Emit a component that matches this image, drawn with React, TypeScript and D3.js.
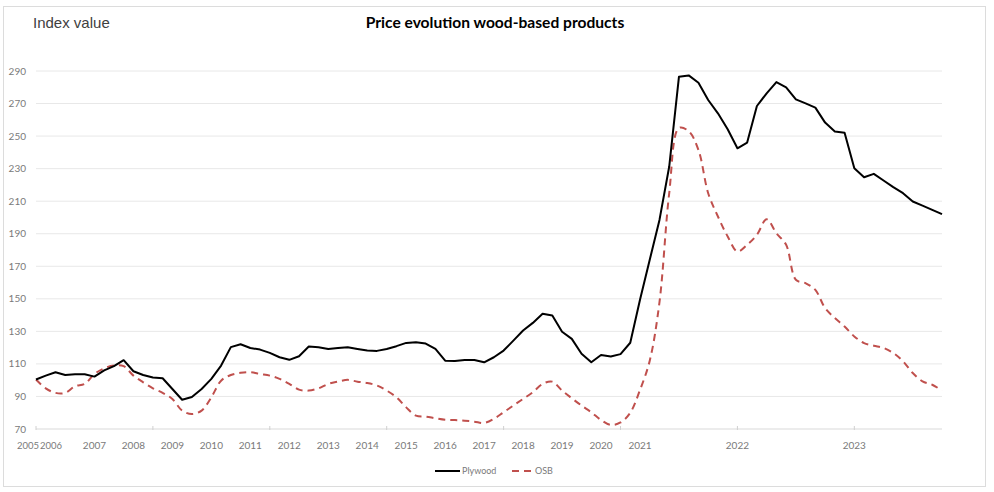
import React from "react";
import * as d3 from "d3";

const plywood = [
  100.4, 102.8, 104.9, 103.2, 103.6, 103.6, 102.2, 106, 108.6, 112.3,
  105.5, 103.2, 101.6, 101.2, 94.6, 88, 89.7, 94.6, 100.8, 109,
  120.3, 122.1, 119.8, 118.8, 116.8, 114.1, 112.5, 114.7, 120.7, 120.3,
  119.2, 119.8, 120.3, 119.2, 118.2, 118, 119.2, 120.9, 122.9, 123.3,
  122.5, 119.2, 112, 111.8, 112.4, 112.4, 111, 114.1, 118.2, 124.3,
  130.5, 135.2, 140.8, 139.7, 129.8, 125.4, 116.2, 111, 115.5, 114.5,
  116, 123, 149.4, 174, 198.5, 231.3, 286.5, 287.3, 282.8, 272.2,
  264, 254.2, 242.5, 246, 268.5, 276.3, 283.2, 280, 272.6, 270.1,
  267.5, 258.3, 252.8, 252.1, 230.2, 224.7, 226.8, 222.7, 218.6, 214.9,
  209.8, 207.3, 204.7, 202,
];

const osb = [
  100.4, 95, 92.2, 92.2, 96.3, 97.7, 103.8, 107.3, 109, 108.6,
  102.8, 98.7, 95, 92.2, 88.5, 81.3, 79.2, 81.3, 89.5, 99.7,
  103.2, 104.5, 104.9, 103.8, 102.8, 100.8, 97.7, 94.2, 93.6, 95,
  97.7, 99.1, 100.2, 99.1, 98.3, 96.7, 93.6, 89.5, 83.3, 78.2,
  77.6, 76.6, 75.7, 75.5, 75.1, 74.5, 73.7, 76.2, 80.3, 84.4,
  88.5, 92.6, 97.7, 99.1, 93.6, 88.9, 84.4, 80.3, 75.5, 72.5,
  74, 80, 94, 112, 148, 215, 255, 253, 241.5, 214.9,
  200.6, 188.3, 179.1, 183.2, 189.3, 198.9, 190.3, 183.2, 161.7, 159.6,
  155.5, 144.3, 138.2, 133, 126.9, 122.8, 121.2, 119.8, 116.7, 111.6,
  104.4, 99.3, 97.2, 93.6,
];

// Year labels and the category index where each appears
const yearLabels = ["2005", "2006", "2007", "2008", "2009", "2010", "2011", "2012", "2013", "2014", "2015", "2016", "2017", "2018", "2019", "2020", "2021", "2022", "2023"];
const yearIndex = [0, 1, 6, 10, 14, 18, 22, 26, 30, 34, 38, 42, 46, 50, 54, 58, 62, 72, 84];
const yTicks = [70, 90, 110, 130, 150, 170, 190, 210, 230, 250, 270, 290];
const tickEvery = 12;

const W = 994;
const H = 492;
const left = 36;
const right = 942;
const top = 71;
const bottom = 429;

export default function App() {
  const idx = d3.range(plywood.length);
  const x = d3.scalePoint<number>().domain(idx).range([left, right]);
  const y = d3.scaleLinear().domain([70, 290]).range([bottom, top]);

  const lineP = d3
    .line<number>()
    .x((_, i) => x(i) as number)
    .y((d) => y(d));
  const lineO = d3
    .line<number>()
    .x((_, i) => x(i) as number)
    .y((d) => y(d))
    .curve(d3.curveCatmullRom.alpha(0.5));

  const tickIdx = idx.filter((i) => i % tickEvery === 0);
  const font = "Lato, 'Liberation Sans', sans-serif";

  // the first two labels sit on neighbouring categories; butt them against each other
  const labelAnchor = (k: number) => (k === 0 ? "end" : k === 1 ? "start" : "middle");
  const labelX = (k: number) => {
    if (k === 0) return (x(yearIndex[0]) as number) + 3;
    if (k === 1) return (x(yearIndex[0]) as number) + 4;
    return x(yearIndex[k]) as number;
  };

  return (
    <svg
      width={W}
      height={H}
      style={{ position: "absolute", left: 0, top: 0, background: "#fff" }}
    >
      <rect x={3.5} y={6.5} width={982} height={480} fill="#fff" stroke="#dcdcdc" strokeWidth={1} />
      <text x={33} y={28} fontFamily="'Liberation Sans', Arial, sans-serif" fontSize={15} fill="#404040">
        Index value
      </text>
      <text x={495} y={28} textAnchor="middle" fontFamily={font} fontWeight={700} fontSize={15.6} fill="#000">
        Price evolution wood-based products
      </text>
      {yTicks.map((t) => (
        <g key={t}>
          <line x1={left} x2={right} y1={y(t)} y2={y(t)} stroke={t === 70 ? "#d9d9d9" : "#e8e8e8"} strokeWidth={1} />
          <text x={26} y={y(t)} dy="0.35em" textAnchor="end" fontFamily={font} fontSize={10} fill="#7a7a7a">
            {t}
          </text>
        </g>
      ))}
      {tickIdx.map((i) => (
        <line key={i} x1={x(i)} x2={x(i)} y1={bottom - 3} y2={bottom + 1} stroke="#d0d0d0" strokeWidth={1} />
      ))}
      {yearLabels.map((lab, k) => (
        <text
          key={lab}
          x={labelX(k)}
          y={449}
          textAnchor={labelAnchor(k)}
          fontFamily={font}
          fontSize={k < 2 ? 9.5 : 10}
          fill="#7a7a7a"
        >
          {lab}
        </text>
      ))}
      <path d={lineO(osb) || ""} fill="none" stroke="#c0504d" strokeWidth={2} strokeDasharray="7 5" />
      <path d={lineP(plywood) || ""} fill="none" stroke="#000" strokeWidth={2} strokeLinejoin="round" />
      <line x1={435} x2={460} y1={471} y2={471} stroke="#000" strokeWidth={2} />
      <text x={462} y={471} dy="0.35em" fontFamily={font} fontSize={9} fill="#7a7a7a">
        Plywood
      </text>
      <line x1={512} x2={531} y1={471} y2={471} stroke="#c0504d" strokeWidth={2} strokeDasharray="7 5" />
      <text x={535} y={471} dy="0.35em" fontFamily={font} fontSize={9} fill="#7a7a7a">
        OSB
      </text>
    </svg>
  );
}
